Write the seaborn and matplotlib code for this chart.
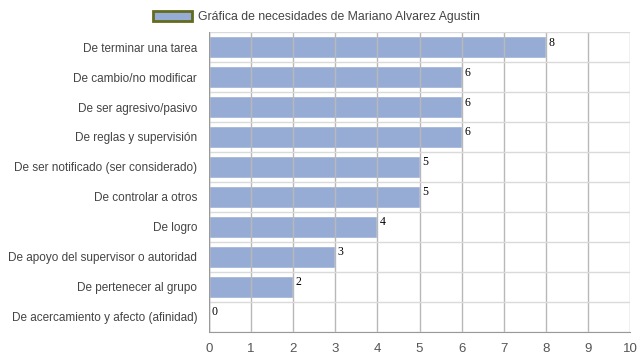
import seaborn as sb
import matplotlib.pyplot as plt
import pandas as pd
from matplotlib.patches import Patch

categorias = [
    "De terminar una tarea",
    "De cambio/no modificar",
    "De ser agresivo/pasivo",
    "De reglas y supervisión",
    "De ser notificado (ser considerado)",
    "De controlar a otros",
    "De logro",
    "De apoyo del supervisor o autoridad",
    "De pertenecer al grupo",
    "De acercamiento y afecto (afinidad)",
]
valores = [8, 6, 6, 6, 5, 5, 4, 3, 2, 0]
serie = "Gráfica de necesidades de Mariano Alvarez Agustin"

df = pd.DataFrame({"necesidad": categorias, "valor": valores})

sb.set_style("white")
plt.rcParams["font.family"] = ["Liberation Sans", "DejaVu Sans"]

fig = plt.figure(figsize=(6.39, 3.6), dpi=100)
ax = fig.add_axes([0.327, 0.078, 0.659, 0.833])

color = "#97acd4"
sb.barplot(x="valor", y="necesidad", data=df, orient="h", color=color,
           width=0.73, saturation=1, ax=ax, zorder=1)

ax.set_xlim(0, 10)
ax.set_ylim(len(categorias) - 0.5, -0.5)
ax.set_xticks(range(0, 11))
ax.set_xlabel("")
ax.set_ylabel("")

# separadores de filas
ax.set_yticks([i + 0.5 for i in range(-1, len(categorias))], minor=True)
ax.tick_params(axis="y", which="minor", length=11, color="#dadada", width=1)
ax.tick_params(axis="y", which="major", length=0, labelsize=8.5, colors="#444444", pad=8.5)
ax.tick_params(axis="x", length=0, labelsize=9.5, colors="#555555", pad=8)
ax.grid(axis="y", which="minor", color="#dadada", linewidth=1, zorder=3)
ax.grid(axis="x", which="major", color="#b8b8b8", linewidth=1, zorder=3)
ax.set_axisbelow(False)

for s in ["top", "right", "left"]:
    ax.spines[s].set_visible(False)
ax.spines["bottom"].set_color("#999999")
ax.axvline(0, color="#999999", linewidth=1, zorder=4)

for i, v in enumerate(valores):
    ax.text(v + 0.06, i - 0.15, str(v), va="center", ha="left", fontsize=8.5,
            family=["Liberation Serif", "DejaVu Serif"], color="black", zorder=5)

handle = Patch(facecolor=color, edgecolor="#636b1c", linewidth=2)
fig.legend([handle], [serie], loc="upper center", bbox_to_anchor=(0.495, 1.0),
           frameon=False, fontsize=8.8, handlelength=3.2, handleheight=0.9,
           handletextpad=0.5, labelcolor="#444444")

fig.savefig("out.png", dpi=100)
